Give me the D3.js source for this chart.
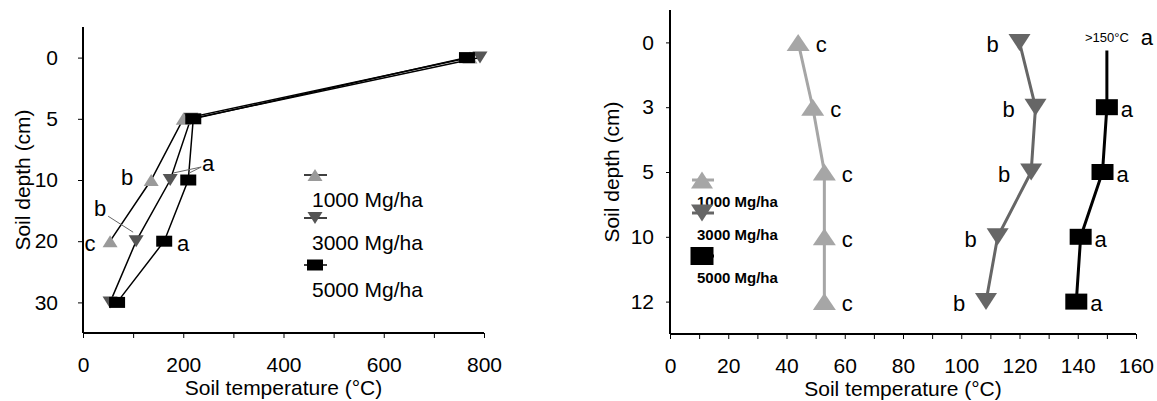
<!DOCTYPE html>
<html>
<head>
<meta charset="utf-8">
<script src="https://cdn.jsdelivr.net/npm/d3@7"></script>
<style>
  body { margin: 0; background: #fff; }
  text { font-family: Arial, "Liberation Sans", sans-serif; fill: #000; }
</style>
</head>
<body>
<div id="chart"></div>
<script>
(function() {
  'use strict';

  // left panel: soil temperature by depth
  var depthsL = ['0', '5', '10', '20', '30'];
  var tempL1000 = [772, 200, 136, 54, null];
  var tempL3000 = [792, 215, 174, 106, 54];
  var tempL5000 = [766, 220, 210, 162, 68];
  var ticksL = [0, 100, 200, 300, 400, 500, 600, 700, 800];

  // right panel
  var depthsR = ['0', '3', '5', '10', '12'];
  var tempR1000 = [44, 49, 53, 53, 53];
  var tempR3000 = [120, 125.5, 124, 112.5, 108.5];
  var tempR5000 = [150, 150, 148.5, 141, 139.5];
  var lettersR1000 = ['c', 'c', 'c', 'c', 'c'];
  var lettersR3000 = ['b', 'b', 'b', 'b', 'b'];
  var lettersR5000 = ['a', 'a', 'a', 'a', 'a'];
  var ticksR = [0, 10, 20, 30, 40, 50, 60, 70, 80, 90, 100, 110, 120, 130, 140, 150, 160];

  var seriesNames = ['1000 Mg/ha', '3000 Mg/ha', '5000 Mg/ha'];

  var svg = d3.select('#chart')
      .append('svg')
    .attr('width', 1157)
    .attr('height', 401);

  function markerPath(shape, w, h) {
    if (shape === 'up') {
      return 'M' + (-w / 2) + ',' + (h / 2) + 'L' + (w / 2) + ',' + (h / 2) + 'L0,' + (-h / 2) + 'Z';
    }
    if (shape === 'down') {
      return 'M' + (-w / 2) + ',' + (-h / 2) + 'L' + (w / 2) + ',' + (-h / 2) + 'L0,' + (h / 2) + 'Z';
    }
    return 'M' + (-w / 2) + ',' + (-h / 2) + 'h' + w + 'v' + h + 'h' + (-w) + 'Z';
  }

  function drawAxes(g, x, y, opt) {
    var xAxis = d3.axisBottom(x)
      .tickValues(opt.xTicks)
      .tickSize(5)
      .tickSizeOuter(0)
      .tickPadding(19)
      .tickFormat(function(d) { return d % opt.labelEvery === 0 ? d : ''; });
    var yAxis = d3.axisLeft(y)
      .tickSize(opt.yTickSize)
      .tickSizeOuter(0)
      .tickPadding(opt.yPad);

    var gx = g.append('g')
      .attr('transform', 'translate(0,' + opt.bottom + ')')
      .call(xAxis);
    var gy = g.append('g')
      .attr('transform', 'translate(' + opt.left + ',0)')
      .call(yAxis);

    [gx, gy].forEach(function(a) {
      a.select('.domain').attr('stroke', '#000').attr('stroke-width', 2);
      a.selectAll('.tick line').attr('stroke', '#000').attr('stroke-width', 1);
      a.selectAll('.tick text').style('font-size', '21px').attr('fill', '#000');
    });
    // extend y domain line down to x axis
    gy.select('.domain').attr('d', 'M0,' + opt.top + 'V' + opt.bottom);
    gx.select('.domain').attr('d', 'M' + opt.left + ',0H' + opt.right);

    g.append('text')
      .attr('x', (opt.left + opt.right) / 2)
      .attr('y', opt.bottom + 62)
      .attr('text-anchor', 'middle')
      .style('font-size', '21px')
      .text('Soil temperature (°C)');

    g.append('text')
      .attr('transform', 'translate(' + opt.ytitleX + ',' + ((opt.top + opt.bottom) / 2) + ') rotate(-90)')
      .attr('text-anchor', 'middle')
      .attr('dy', '0.35em')
      .style('font-size', '21px')
      .text('Soil depth (cm)');
  }

  // ---------- left panel ----------
  var L = { left: 83, right: 484, top: 27, bottom: 333 };
  var xL = d3.scaleLinear().domain([0, 800]).range([L.left, L.right]);
  var yL = d3.scalePoint().domain(depthsL).range([L.top, L.bottom]).padding(0.5);
  var gL = svg.append('g');

  drawAxes(gL, xL, yL, {
    xTicks: ticksL, labelEvery: 200, bottom: L.bottom, top: L.top,
    left: L.left, right: L.right, yTickSize: 5, yPad: 20, ytitleX: 23
  });

  var seriesL = [
    { values: tempL1000, shape: 'up', fill: '#9a9a9a', w: 15, h: 12 },
    { values: tempL3000, shape: 'down', fill: '#555555', w: 15, h: 12 },
    { values: tempL5000, shape: 'square', fill: '#000000', w: 16, h: 11 }
  ];

  var lineL = d3.line()
    .defined(function(d) { return d.v !== null; })
    .x(function(d) { return xL(d.v); })
    .y(function(d) { return yL(d.depth); });

  seriesL.forEach(function(s) {
    s.points = depthsL.map(function(dep, i) { return { depth: dep, v: s.values[i] }; });
    gL.append('path')
      .datum(s.points)
      .attr('d', lineL)
      .attr('fill', 'none')
      .attr('stroke', '#000')
      .attr('stroke-width', 1.5);
  });

  seriesL.forEach(function(s) {
    gL.selectAll(null)
      .data(s.points.filter(function(d) { return d.v !== null; }))
      .enter().append('path')
      .attr('transform', function(d) { return 'translate(' + xL(d.v) + ',' + yL(d.depth) + ')'; })
      .attr('d', markerPath(s.shape, s.w, s.h))
      .attr('fill', s.fill);
  });

  // significance letters on the left panel
  function ptL(values, i) { return [xL(values[i]), yL(depthsL[i])]; }
  function letter(g, x, y, t, size) {
    g.append('text')
      .attr('x', x).attr('y', y)
      .attr('dy', '0.35em')
      .attr('text-anchor', 'middle')
      .style('font-size', (size || 22) + 'px')
      .text(t);
  }
  function leader(g, p0, p1) {
    g.append('line')
      .attr('x1', p0[0]).attr('y1', p0[1])
      .attr('x2', p1[0]).attr('y2', p1[1])
      .attr('stroke', '#666').attr('stroke-width', 1);
  }

  var p;
  p = ptL(tempL1000, 2); letter(gL, p[0] - 24, p[1] - 3, 'b');
  p = ptL(tempL1000, 3); letter(gL, p[0] - 20, p[1] + 2, 'c');
  p = ptL(tempL5000, 3); letter(gL, p[0] + 19, p[1] + 2, 'a');

  var p3 = ptL(tempL3000, 2), p5 = ptL(tempL5000, 2);
  leader(gL, [p3[0] + 31, p3[1] - 13], [p3[0] + 3, p3[1] - 7]);
  leader(gL, [p3[0] + 31, p3[1] - 13], [p5[0] + 1, p5[1] - 7]);
  letter(gL, p3[0] + 38, p3[1] - 17, 'a');

  p = ptL(tempL3000, 3);
  leader(gL, [p[0] - 28, p[1] - 25], [p[0] - 3, p[1] - 9]);
  letter(gL, p[0] - 36, p[1] - 33, 'b');

  // left legend
  var legL = gL.append('g').attr('transform', 'translate(315,0)');
  var legRowsL = [175, 218, 265];
  seriesL.forEach(function(s, i) {
    legL.append('line')
      .attr('x1', -11).attr('x2', 12)
      .attr('y1', legRowsL[i]).attr('y2', legRowsL[i])
      .attr('stroke', '#000').attr('stroke-width', 1.5);
    legL.append('path')
      .attr('transform', 'translate(0,' + legRowsL[i] + ')')
      .attr('d', markerPath(s.shape, s.w, s.h))
      .attr('fill', s.fill);
    legL.append('text')
      .attr('x', -3)
      .attr('y', legRowsL[i] + 25)
      .attr('dy', '0.35em')
      .style('font-size', '21px')
      .text(seriesNames[i]);
  });

  // ---------- right panel ----------
  var R = { left: 670, right: 1136, top: 10, bottom: 334 };
  var xR = d3.scaleLinear().domain([0, 160]).range([R.left, R.right]);
  var yR = d3.scalePoint().domain(depthsR).range([R.top, R.bottom]).padding(0.5);
  var gR = svg.append('g');

  drawAxes(gR, xR, yR, {
    xTicks: ticksR, labelEvery: 20, bottom: R.bottom, top: R.top,
    left: R.left, right: R.right, yTickSize: 4, yPad: 12, ytitleX: 612
  });

  var seriesR = [
    { values: tempR1000, letters: lettersR1000, shape: 'up', color: '#a6a6a6', w: 23, h: 17, dx: 23 },
    { values: tempR3000, letters: lettersR3000, shape: 'down', color: '#666666', w: 22, h: 17, dx: -27 },
    { values: tempR5000, letters: lettersR5000, shape: 'square', color: '#000000', w: 22, h: 16, dx: 20 }
  ];

  var lineR = d3.line()
    .x(function(d) { return xR(d.v); })
    .y(function(d) { return yR(d.depth); });

  seriesR.forEach(function(s) {
    s.points = depthsR.map(function(dep, i) { return { depth: dep, v: s.values[i], i: i }; });
    var pts = s.shape === 'square'
      ? s.points.map(function(d) { return d.i === 0 ? { depth: d.depth, v: d.v, off: 8 } : d; })
      : s.points;
    gR.append('path')
      .datum(pts)
      .attr('d', d3.line()
        .x(function(d) { return xR(d.v); })
        .y(function(d) { return yR(d.depth) + (d.off || 0); }))
      .attr('fill', 'none')
      .attr('stroke', s.color)
      .attr('stroke-width', 3);
  });

  seriesR.forEach(function(s) {
    // the 5000 Mg/ha surface value is off scale (>150 °C): no marker there
    var shown = s.points.filter(function(d) { return !(s.shape === 'square' && d.i === 0); });
    gR.selectAll(null)
      .data(shown)
      .enter().append('path')
      .attr('transform', function(d) { return 'translate(' + xR(d.v) + ',' + yR(d.depth) + ')'; })
      .attr('d', markerPath(s.shape, s.w, s.h))
      .attr('fill', s.color);

    gR.selectAll(null)
      .data(shown)
      .enter().append('text')
      .attr('x', function(d) { return xR(d.v) + s.dx; })
      .attr('y', function(d) { return yR(d.depth) + 2; })
      .attr('dy', '0.35em')
      .attr('text-anchor', 'middle')
      .style('font-size', '22px')
      .text(function(d) { return s.letters[d.i]; });
  });

  // off-scale note for 5000 Mg/ha at the surface
  gR.append('text')
    .attr('x', xR(tempR5000[0]))
    .attr('y', yR(depthsR[0]) - 5)
    .attr('dy', '0.35em')
    .attr('text-anchor', 'middle')
    .style('font-size', '13px')
    .text('>150°C');
  gR.append('text')
    .attr('x', xR(tempR5000[0]) + 40)
    .attr('y', yR(depthsR[0]) - 5)
    .attr('dy', '0.35em')
    .attr('text-anchor', 'middle')
    .style('font-size', '22px')
    .text(lettersR5000[0]);

  // right legend
  var legR = gR.append('g').attr('transform', 'translate(702,0)');
  var legRowsR = [180, 213, 256];
  var legSizeR = [[22, 17], [22, 17], [23, 18]];
  seriesR.forEach(function(s, i) {
    legR.append('line')
      .attr('x1', -10).attr('x2', 12)
      .attr('y1', legRowsR[i]).attr('y2', legRowsR[i])
      .attr('stroke', s.color).attr('stroke-width', 3);
    legR.append('path')
      .attr('transform', 'translate(0,' + legRowsR[i] + ')')
      .attr('d', markerPath(s.shape, legSizeR[i][0], legSizeR[i][1]))
      .attr('fill', s.color);
    legR.append('text')
      .attr('x', -5)
      .attr('y', legRowsR[i] + 22)
      .attr('dy', '0.35em')
      .style('font-size', '15px')
      .style('font-weight', 'bold')
      .text(seriesNames[i]);
  });
})();
</script>
</body>
</html>
